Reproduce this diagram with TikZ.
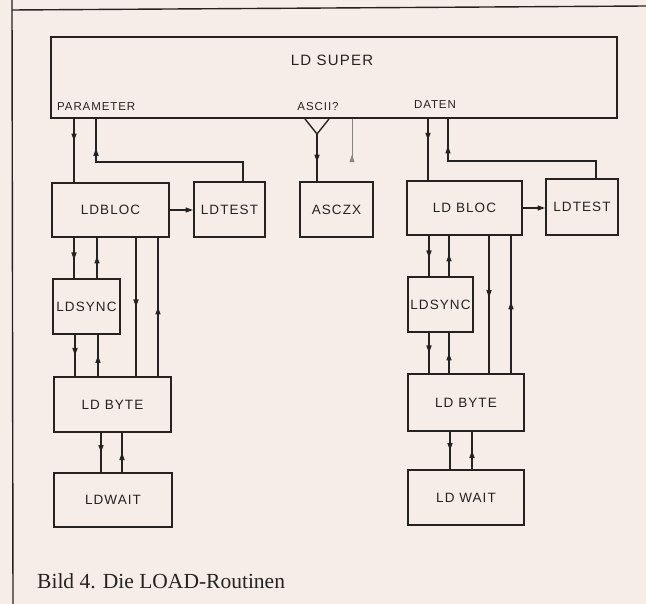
\documentclass[tikz,border=0pt]{standalone}
\usepackage{fontspec}
\setmainfont{Liberation Serif}
\newfontfamily\boxfont[LetterSpace=8]{Liberation Sans}
\usepackage{tikz}
\usetikzlibrary{
  arrows.meta,
  positioning,
  calc,
  decorations.markings
}
\definecolor{paper}{RGB}{246,237,232}
\definecolor{ink}{RGB}{38,34,34}
\tikzset{
  routine/.style={draw=ink, line width=2pt, inner sep=0pt,
    font=\boxfont\fontsize{13.5}{15}\selectfont, text=ink},
  sublabel/.style={inner sep=0pt, text=ink,
    font=\boxfont\fontsize{11.5}{13}\selectfont},
  link/.style={draw=ink, line width=1.4pt},
  tip/.style={-{Triangle[length=7.5pt,width=5pt]}},
  midarr/.style={postaction={decorate}, decoration={markings,
    mark=at position #1 with {\arrow{Triangle[length=7.5pt,width=5pt]}}}},
}

\begin{document}
\begin{tikzpicture}[x=1pt, y=-1pt]
  % Paper and frame
  \fill[paper] (0,0) rectangle (646,604);
  \useasboundingbox (0,0) rectangle (646,604);
  \draw[link, line width=1.4pt] (12,0) -- (13,604);
  \draw[link, line width=1.4pt] (12,10) -- (646,6);

  % Main routine
  \node[routine, minimum width=566pt, minimum height=81pt] (super) at (334,77.5) {};
  \node[sublabel, font=\boxfont\fontsize{15}{17}\selectfont] (supertxt) at (332,60) {LD SUPER};
  \node[sublabel, anchor=west] (param) at (57,107) {PARAMETER};
  \node[sublabel] (ascii) at (318,107) {ASCII?};
  \node[sublabel] (daten) at (435,105) {DATEN};

  % Left column
  \node[routine, minimum width=117pt, minimum height=54pt] (blocL) at (110.5,210) {LDBLOC};
  \node[routine, minimum width=71pt, minimum height=55pt] (testL) at (229.5,209.5) {LDTEST};
  \node[routine, minimum width=67pt, minimum height=55pt] (syncL) at (86.5,306.5) {LDSYNC};
  \node[routine, minimum width=117pt, minimum height=55pt] (byteL) at (112.5,404.5) {LD BYTE};
  \node[routine, minimum width=118pt, minimum height=54pt] (waitL) at (113,500) {LDWAIT};

  % Middle
  \node[routine, minimum width=73pt, minimum height=55pt] (asczx) at (336.5,209.5) {ASCZX};

  % Right column
  \node[routine, minimum width=115pt, minimum height=54pt] (blocR) at (464.5,208) {LD BLOC};
  \node[routine, minimum width=72pt, minimum height=56pt] (testR) at (582,207) {LDTEST};
  \node[routine, minimum width=65pt, minimum height=55pt] (syncR) at (440.5,304.5) {LDSYNC};
  \node[routine, minimum width=116pt, minimum height=57pt] (byteR) at (466,402.5) {LD BYTE};
  \node[routine, minimum width=116pt, minimum height=55pt] (waitR) at (466,497.5) {LD WAIT};

  % PARAMETER lines
  \draw[link, midarr=0.35] ([xshift=23pt]blocL.north west |- super.south) -- ([xshift=23pt]blocL.north west);
  \draw[link, midarr=0.86] ([xshift=50pt]testL.north west) -- ++(0,-19)
    -| ([xshift=45pt]blocL.north west |- super.south);
  \draw[link, tip] (blocL.east) -- (blocL.east -| testL.west);

  % Left: LDBLOC, LDSYNC, LDBYTE, LDWAIT
  \draw[link, midarr=0.55] ([xshift=23pt]blocL.south west) -- ([xshift=23pt]blocL.south west |- syncL.north);
  \draw[link, midarr=0.55] ([xshift=46pt]blocL.south west |- syncL.north) -- ([xshift=46pt]blocL.south west);
  \draw[link, midarr=0.5] ([xshift=85pt]blocL.south west) -- ([xshift=85pt]blocL.south west |- byteL.north);
  \draw[link, midarr=0.5] ([xshift=107pt]blocL.south west |- byteL.north) -- ([xshift=107pt]blocL.south west);
  \draw[link, midarr=0.5] ([xshift=23pt]syncL.south west) -- ([xshift=23pt]syncL.south west |- byteL.north);
  \draw[link, midarr=0.5] ([xshift=46pt]syncL.south west |- byteL.north) -- ([xshift=46pt]syncL.south west);
  \draw[link, midarr=0.5] ([xshift=48pt]byteL.south west) -- ([xshift=48pt]byteL.south west |- waitL.north);
  \draw[link, midarr=0.5] ([xshift=69pt]byteL.south west |- waitL.north) -- ([xshift=69pt]byteL.south west);

  % ASCII? fork
  \coordinate (fork) at ([xshift=18pt,yshift=47pt]asczx.north west);
  \draw[link] ([xshift=-12pt]fork |- super.south) -- (fork) -- ([xshift=12pt]fork |- super.south);
  \draw[link, midarr=0.6] (fork) -- (fork |- asczx.north);
  \coordinate (loose) at (352,161);
  \draw[link, draw=ink!55, line width=1pt, midarr=0.15] (loose) -- (loose |- super.south);

  % DATEN lines
  \draw[link, midarr=0.35] ([xshift=22pt]blocR.north west |- super.south) -- ([xshift=22pt]blocR.north west);
  \draw[link, midarr=0.87] ([xshift=51pt]testR.north west) -- ++(0,-17)
    -| ([xshift=42pt]blocR.north west |- super.south);
  \draw[link, tip] (blocR.east) -- (blocR.east -| testR.west);

  % Right: LDBLOC, LDSYNC, LDBYTE, LDWAIT
  \draw[link, midarr=0.55] ([xshift=23pt]blocR.south west) -- ([xshift=23pt]blocR.south west |- syncR.north);
  \draw[link, midarr=0.55] ([xshift=43pt]blocR.south west |- syncR.north) -- ([xshift=43pt]blocR.south west);
  \draw[link, midarr=0.45] ([xshift=83pt]blocR.south west) -- ([xshift=83pt]blocR.south west |- byteR.north);
  \draw[link, midarr=0.52] ([xshift=105pt]blocR.south west |- byteR.north) -- ([xshift=105pt]blocR.south west);
  \draw[link, midarr=0.5] ([xshift=22pt]syncR.south west) -- ([xshift=22pt]syncR.south west |- byteR.north);
  \draw[link, midarr=0.5] ([xshift=42pt]syncR.south west |- byteR.north) -- ([xshift=42pt]syncR.south west);
  \draw[link, midarr=0.5] ([xshift=43pt]byteR.south west) -- ([xshift=43pt]byteR.south west |- waitR.north);
  \draw[link, midarr=0.5] ([xshift=65pt]byteR.south west |- waitR.north) -- ([xshift=65pt]byteR.south west);

  % Caption
  \node[anchor=west, inner sep=0pt, text=ink, font=\fontsize{21.5}{24}\selectfont] (caption)
    at (37,581) {Bild 4. Die LOAD-Routinen};
\end{tikzpicture}
\end{document}
